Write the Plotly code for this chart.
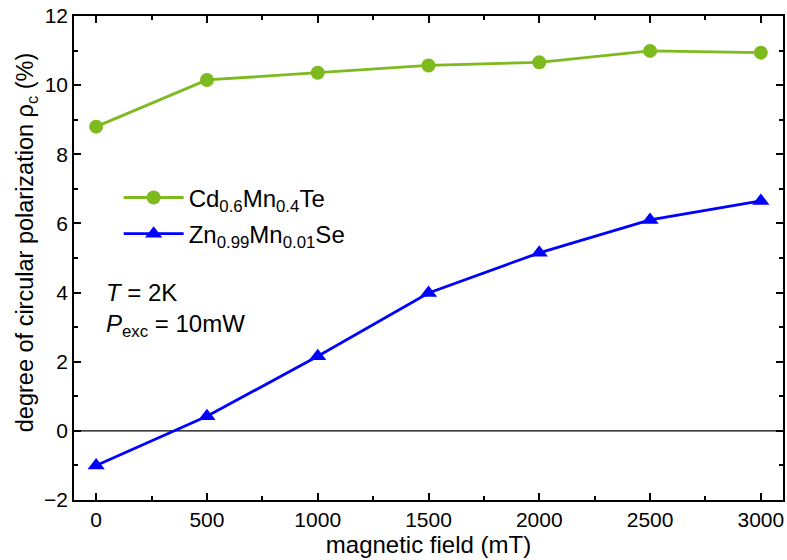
import plotly.graph_objects as go

# magnetic field (mT)
field = [0, 500, 1000, 1500, 2000, 2500, 3000]
# degree of circular polarization (%)
cdmnte = [8.8, 10.15, 10.36, 10.57, 10.66, 10.99, 10.94]
znmnse = [-1.0, 0.42, 2.16, 3.99, 5.15, 6.1, 6.65]

names = ["Cd<sub>0.6</sub>Mn<sub>0.4</sub>Te", "Zn<sub>0.99</sub>Mn<sub>0.01</sub>Se"]

green = "#7CBA1E"
blue = "#0000FF"
font_family = "Arial, Liberation Sans, sans-serif"

fig = go.Figure()
fig.add_trace(go.Scatter(
    x=field, y=cdmnte, name=names[0], mode="lines+markers", legendgroup="a",
    line=dict(color=green, width=2.8),
    marker=dict(symbol="circle", size=14, color=green),
))
fig.add_trace(go.Scatter(
    x=field, y=znmnse, name=names[1], mode="lines+markers", legendgroup="b",
    line=dict(color=blue, width=2.8),
    marker=dict(symbol="triangle-up", size=15, color=blue),
))

# zero reference line
fig.add_shape(type="line", xref="paper", x0=0, x1=1, yref="y", y0=0, y1=0,
              line=dict(color="black", width=1.3), layer="below")

fig.add_annotation(x=0.042, y=4.0, xref="paper", yref="y", xanchor="left",
                   text="<i>T</i> = 2K", showarrow=False,
                   font=dict(size=24, color="black", family=font_family))
fig.add_annotation(x=0.042, y=3.05, xref="paper", yref="y", xanchor="left",
                   text="<i>P</i><sub>exc</sub> = 10mW", showarrow=False,
                   font=dict(size=24, color="black", family=font_family))

# y-axis title
fig.add_annotation(x=-0.066, y=0.531, xref="paper", yref="paper",
                   xanchor="center", yanchor="middle", textangle=-90,
                   text="degree of circular polarization ρ<sub>c</sub> (%)",
                   showarrow=False,
                   font=dict(size=23.5, color="black", family=font_family))

axis_common = dict(
    showline=True, linecolor="black", linewidth=1.5, mirror="ticks",
    ticks="inside", ticklen=7, tickwidth=1.5, tickcolor="black",
    showgrid=False, zeroline=False,
    tickfont=dict(size=21, color="black", family=font_family),
)

fig.update_layout(
    width=787, height=560,
    margin=dict(l=74, r=2, t=16, b=60),
    plot_bgcolor="white", paper_bgcolor="white",
    font=dict(family=font_family, color="black", size=21),
    showlegend=True,
    legend=dict(x=0.063, y=0.587, xanchor="left", yanchor="middle",
                bgcolor="rgba(0,0,0,0)", font=dict(size=24),
                itemwidth=60, tracegroupgap=2),
    xaxis=dict(
        range=[-100, 3100], tickvals=list(range(0, 3001, 500)),
        minor=dict(ticks="inside", ticklen=4, tickwidth=1.5, tickcolor="black",
                   dtick=250, tick0=0),
        title=dict(text="magnetic field (mT)", standoff=2, font=dict(size=24)),
        **axis_common,
    ),
    yaxis=dict(
        range=[-2, 12], dtick=2, tick0=0,
        minor=dict(ticks="inside", ticklen=4, tickwidth=1.5, tickcolor="black",
                   dtick=1, tick0=0),
        **axis_common,
    ),
)

fig.write_html("out.html")
